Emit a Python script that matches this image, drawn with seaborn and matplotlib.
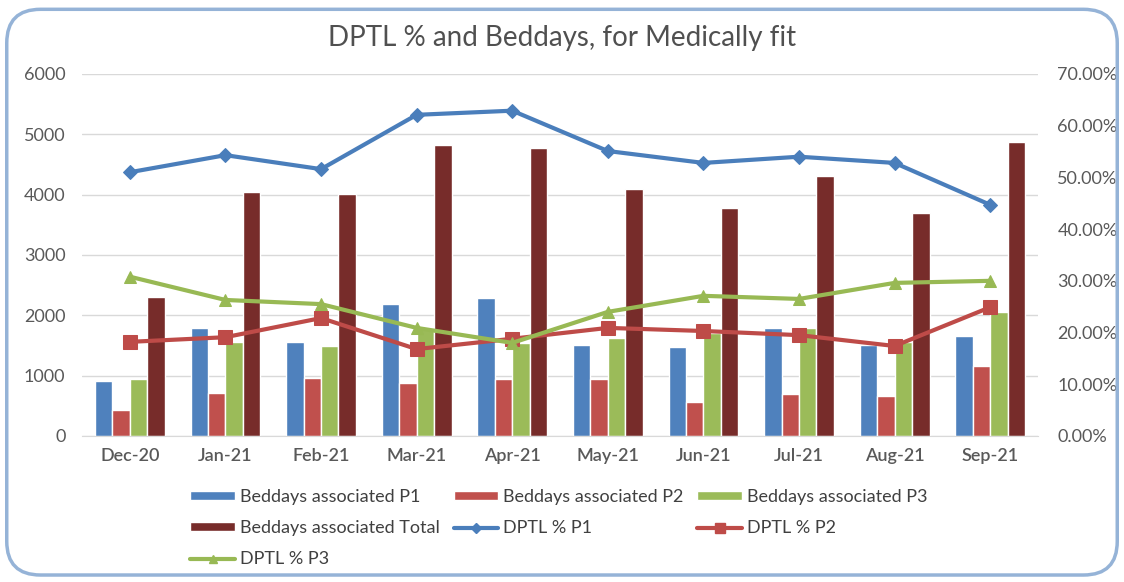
import numpy as np
import pandas as pd
import matplotlib
matplotlib.use("Agg")
import matplotlib.pyplot as plt
from matplotlib.patches import FancyBboxPatch, Patch
from matplotlib.lines import Line2D
from matplotlib.ticker import FuncFormatter
import seaborn as sns

months = ["Dec-20", "Jan-21", "Feb-21", "Mar-21", "Apr-21",
          "May-21", "Jun-21", "Jul-21", "Aug-21", "Sep-21"]

# bed days (left axis)
beddays_p1 = [910, 1790, 1560, 2190, 2290, 1510, 1475, 1790, 1510, 1660]
beddays_p2 = [430, 713, 960, 880, 945, 945, 565, 697, 663, 1160]
beddays_p3 = [945, 1560, 1490, 1790, 1540, 1625, 1710, 1790, 1560, 2055]
beddays_total = [2305, 4045, 4010, 4825, 4775, 4095, 3780, 4310, 3700, 4875]

# DPTL % (right axis)
dptl_p1 = [51.0, 54.3, 51.6, 62.1, 62.9, 55.1, 52.8, 54.0, 52.8, 44.7]
dptl_p2 = [18.2, 19.1, 22.8, 16.8, 18.8, 20.9, 20.3, 19.5, 17.4, 24.9]
dptl_p3 = [30.8, 26.3, 25.5, 20.9, 18.0, 24.0, 27.1, 26.5, 29.6, 30.0]

bar_names = ["Beddays associated P1", "Beddays associated P2",
             "Beddays associated P3", "Beddays associated Total"]
bar_colors = ["#4F81BD", "#C0504D", "#9BBB59", "#772C2A"]
line_names = ["DPTL % P1", "DPTL % P2", "DPTL % P3"]
line_colors = ["#4A7EBB", "#BE4B48", "#98B954"]
line_markers = ["D", "s", "^"]
marker_sizes = [7, 10, 8.5]

sns.set_style("white")
plt.rcParams["font.family"] = ["Lato", "DejaVu Sans"]

df = pd.DataFrame({
    "month": months * 4,
    "series": np.repeat(bar_names, len(months)),
    "value": beddays_p1 + beddays_p2 + beddays_p3 + beddays_total,
})

fig = plt.figure(figsize=(11.24, 5.82), dpi=100)
ax = fig.add_axes([0.073, 0.2509, 0.8505, 0.622])

sns.barplot(data=df, x="month", y="value", hue="series", order=months,
            hue_order=bar_names, palette=bar_colors, width=0.73,
            saturation=1, ax=ax, legend=False)

ax.set_ylim(0, 6000)
ax.set_yticks(range(0, 6001, 1000))
ax.set_xlim(-0.5, len(months) - 0.5)
ax.set_xlabel("")
ax.set_ylabel("")
ax.grid(axis="y", color="#D9D9D9", linewidth=1)
ax.set_axisbelow(True)
for s in ["top", "right", "left"]:
    ax.spines[s].set_visible(False)
ax.spines["bottom"].set_color("#D9D9D9")
ax.tick_params(axis="both", length=0, colors="#595959", labelsize=13)
ax.tick_params(axis="x", pad=9)
for lbl in ax.get_xticklabels():
    lbl.set_fontweight("semibold")
ax.tick_params(axis="y", pad=12)

ax2 = ax.twinx()
xpos = np.arange(len(months))
for vals, name, col, mk, ms in zip([dptl_p1, dptl_p2, dptl_p3], line_names,
                                   line_colors, line_markers, marker_sizes):
    sns.lineplot(x=xpos, y=vals, color=col, marker=mk, markersize=ms,
                 markeredgecolor=col, linewidth=3, ax=ax2, label=name,
                 legend=False)
ax2.set_ylim(0, 70)
ax2.set_yticks(range(0, 71, 10))
ax2.yaxis.set_major_formatter(FuncFormatter(lambda v, p: f"{v:.2f}%"))
for s in ax2.spines.values():
    s.set_visible(False)
ax2.tick_params(axis="y", length=0, colors="#595959", labelsize=13, pad=14)
ax2.grid(False)

fig.text(0.5, 0.935, "DPTL % and Beddays, for Medically fit", ha="center",
         va="center", fontsize=20, color="#505050")

bar_handles = [Patch(facecolor=c, label=n) for c, n in zip(bar_colors, bar_names)]
line_handles = [Line2D([0], [0], color=c, marker=m, markersize=s * 0.75,
                       linewidth=3, label=n)
                for c, m, s, n in zip(line_colors, line_markers, marker_sizes, line_names)]
order = [bar_handles[0], bar_handles[3], line_handles[2],
         bar_handles[1], line_handles[0],
         bar_handles[2], line_handles[1]]
fig.legend(handles=order, loc="upper left", bbox_to_anchor=(0.163, 0.1727),
           ncol=3, frameon=False, fontsize=13, labelcolor="#404040",
           handlelength=2.45, handleheight=0.4, handletextpad=0.28,
           columnspacing=0.78, labelspacing=0.85, borderaxespad=0)

border = FancyBboxPatch((0.006, 0.012), 0.988, 0.972,
                        boxstyle="round,pad=0,rounding_size=0.03",
                        transform=fig.transFigure, facecolor="none",
                        edgecolor="#95B3D7", linewidth=2.5, mutation_aspect=1124 / 582)
fig.patches.append(border)

fig.savefig("out.png", dpi=100)
